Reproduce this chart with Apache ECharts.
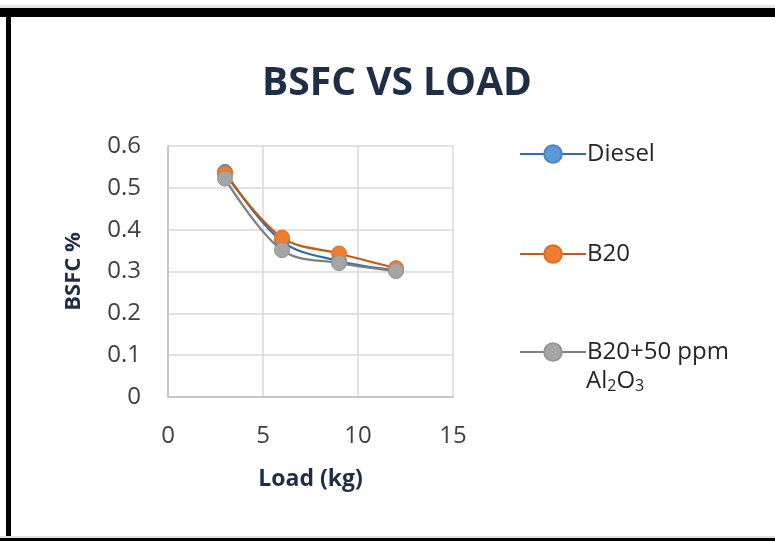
<!DOCTYPE html>
<html>
<head>
<meta charset="utf-8">
<script src="https://cdn.jsdelivr.net/npm/echarts@6/dist/echarts.min.js"></script>
<style>
html,body{margin:0;padding:0;background:#fff;}
#c{width:775px;height:541px;}
</style>
</head>
<body>
<div id="c"></div>
<script>
var loads = [3, 6, 9, 12];
var diesel = [0.538, 0.372, 0.325, 0.303];
var b20 = [0.534, 0.381, 0.343, 0.308];
var b20al = [0.522, 0.351, 0.320, 0.301];
var seriesNames = ['Diesel', 'B20', 'B20+50 ppm'];
var xTicks = [0, 5, 10, 15];
var yTicks = [0, 0.1, 0.2, 0.3, 0.4, 0.5, 0.6];

var FONT = 'Open Sans';
function pairs(ys){ return loads.map(function(x,i){ return [x, ys[i]]; }); }

var chart = echarts.init(document.getElementById('c'));
var styles = [
  {line:'#2e6cb0', fill:'#5b9bd5', border:'#4a86c2'},
  {line:'#c55a11', fill:'#ed7d31', border:'#e0701f'},
  {line:'#7f7f7f', fill:'#a5a5a5', border:'#969696'}
];
var dataSets = [diesel, b20, b20al];
var series = dataSets.map(function(d,i){
  return {
    name: seriesNames[i], type:'line', smooth:0.35,
    data: pairs(d), symbol:'circle', symbolSize:15,
    lineStyle:{color:styles[i].line, width:2.25},
    itemStyle:{color:styles[i].fill, borderColor:styles[i].border, borderWidth:1},
    z: 2 + i
  };
});
function mkLegend(name, top){
  return {
    show:true, orient:'vertical', left:514, top:top,
    data:[name], itemWidth:66, itemHeight:22, itemGap:0, selectedMode:false,
    textStyle:{fontFamily:FONT, fontSize:24, color:'#262626', padding:[0,0,0,-4]}
  };
}
chart.setOption({
  animation:false,
  backgroundColor:'#fff',
  title:{
    text:'BSFC VS LOAD', left:392, top:59, textAlign:'center',
    textStyle:{fontFamily:FONT, fontWeight:'bold', fontSize:39, color:'#1f2e47'}
  },
  grid:{left:168, right:322, top:146, bottom:144, containLabel:false},
  xAxis:{
    type:'value', min:xTicks[0], max:xTicks[xTicks.length-1], interval:5,
    name:'Load (kg)', nameLocation:'middle', nameGap:71,
    nameTextStyle:{fontFamily:FONT, fontWeight:'bold', fontSize:23, color:'#1f2e47'},
    axisLine:{show:true, lineStyle:{color:'#bfbfbf', width:1.5}},
    axisTick:{show:false},
    axisLabel:{fontFamily:FONT, fontSize:24, color:'#404040', margin:27},
    splitLine:{show:true, lineStyle:{color:'#d9d9d9', width:1.5}}
  },
  yAxis:{
    type:'value', min:yTicks[0], max:yTicks[yTicks.length-1], interval:0.1,
    name:'BSFC %', nameLocation:'middle', nameGap:83, nameRotate:90,
    nameTextStyle:{fontFamily:FONT, fontWeight:'bold', fontSize:22, color:'#1f2e47'},
    axisLine:{show:true, lineStyle:{color:'#bfbfbf', width:1.5}},
    axisTick:{show:false},
    axisLabel:{fontFamily:FONT, fontSize:24, color:'#404040', margin:27},
    splitLine:{show:true, lineStyle:{color:'#d9d9d9', width:1.5}}
  },
  legend:[
    mkLegend(seriesNames[0], 137),
    mkLegend(seriesNames[1], 237),
    mkLegend(seriesNames[2], 335)
  ],
  graphic:[
    {type:'text', left:586, top:369, style:{
      text:'Al{s|2}O{s|3}', fontFamily:FONT, fontSize:24, fill:'#262626',
      rich:{s:{fontFamily:FONT, fontSize:16, fill:'#262626', padding:[10,0,0,0]}}
    }},
    {type:'rect', shape:{x:0,y:5,width:775,height:3}, style:{fill:'#e4e4e4'}},
    {type:'rect', shape:{x:0,y:8,width:775,height:9}, style:{fill:'#000'}},
    {type:'rect', shape:{x:6,y:8,width:5,height:533}, style:{fill:'#000'}},
    {type:'rect', shape:{x:0,y:536,width:775,height:2}, style:{fill:'#dcdfe3'}},
    {type:'rect', shape:{x:0,y:538,width:775,height:3}, style:{fill:'#000'}}
  ],
  series: series
});
</script>
</body>
</html>
